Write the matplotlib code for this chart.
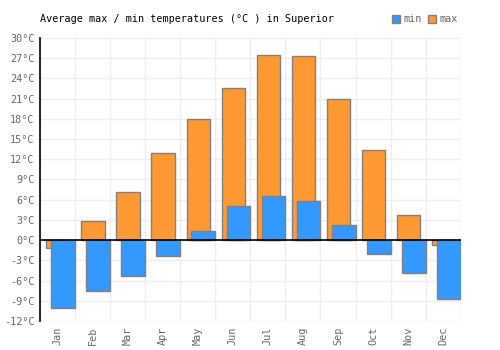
import numpy as np
import matplotlib.pyplot as plt
from matplotlib.patches import Patch

months = ['Jan', 'Feb', 'Mar', 'Apr', 'May', 'Jun',
          'Jul', 'Aug', 'Sep', 'Oct', 'Nov', 'Dec']
temp_max = [-1.2, 2.9, 7.1, 12.9, 17.9, 22.5, 27.5, 27.3, 20.9, 13.3, 3.7, -0.8]
temp_min = [-10.1, -7.5, -5.4, -2.3, 1.3, 5.1, 6.5, 5.8, 2.2, -2.0, -4.9, -8.8]
y_ticks = list(range(-12, 31, 3))

plt.rcParams['font.family'] = ['DejaVu Sans Mono']

fig = plt.figure(figsize=(5, 3.5), dpi=100)
ax = fig.add_axes([0.08, 0.083, 0.8414, 0.8086])

x = np.arange(len(months))
# orange first, blue overlaps it
ax.bar(x + 0.18, temp_max, width=0.66, align='edge', color='#ff9933',
       edgecolor='#808080', linewidth=1, zorder=2)
ax.bar(x + 0.32, temp_min, width=0.68, align='edge', color='#3399ff',
       edgecolor='#808080', linewidth=1, zorder=3)

ax.axhline(0, color='black', linewidth=1.2, zorder=4)

ax.set_xlim(0, 12)
ax.set_ylim(-12, 30)
ax.set_yticks(y_ticks)
ax.set_yticklabels([f'{t}°C' for t in y_ticks], fontsize=7.3, color='#666666')
ax.set_xticks(x + 0.5)
ax.set_xticklabels(months, rotation=90, fontsize=7.3, color='#666666')
ax.set_xticks(np.arange(13), minor=True)
ax.tick_params(axis='both', which='both', length=0, pad=4)

ax.grid(True, which='minor', axis='x', color='#eeeeee', linewidth=1, zorder=0)
ax.grid(True, which='major', axis='y', color='#eeeeee', linewidth=1, zorder=0)
ax.set_axisbelow(True)

for side in ['top', 'right', 'bottom']:
    ax.spines[side].set_visible(False)
ax.spines['left'].set_color('black')
ax.spines['left'].set_linewidth(1.2)

fig.text(0.08, 0.945, 'Average max / min temperatures (°C ) in Superior',
         fontsize=7.3, color='black', va='center', ha='left')

handles = [Patch(facecolor='#3399ff', edgecolor='#808080', label='min'),
           Patch(facecolor='#ff9933', edgecolor='#808080', label='max')]
leg = fig.legend(handles=handles, loc='center right', bbox_to_anchor=(0.915, 0.945),
                 ncol=2, frameon=False, fontsize=7.3, handlelength=0.8,
                 handleheight=0.8, handletextpad=0.3, columnspacing=0.6,
                 borderpad=0, borderaxespad=0)
for t in leg.get_texts():
    t.set_color('#666666')

fig.savefig('out.png', dpi=100)
